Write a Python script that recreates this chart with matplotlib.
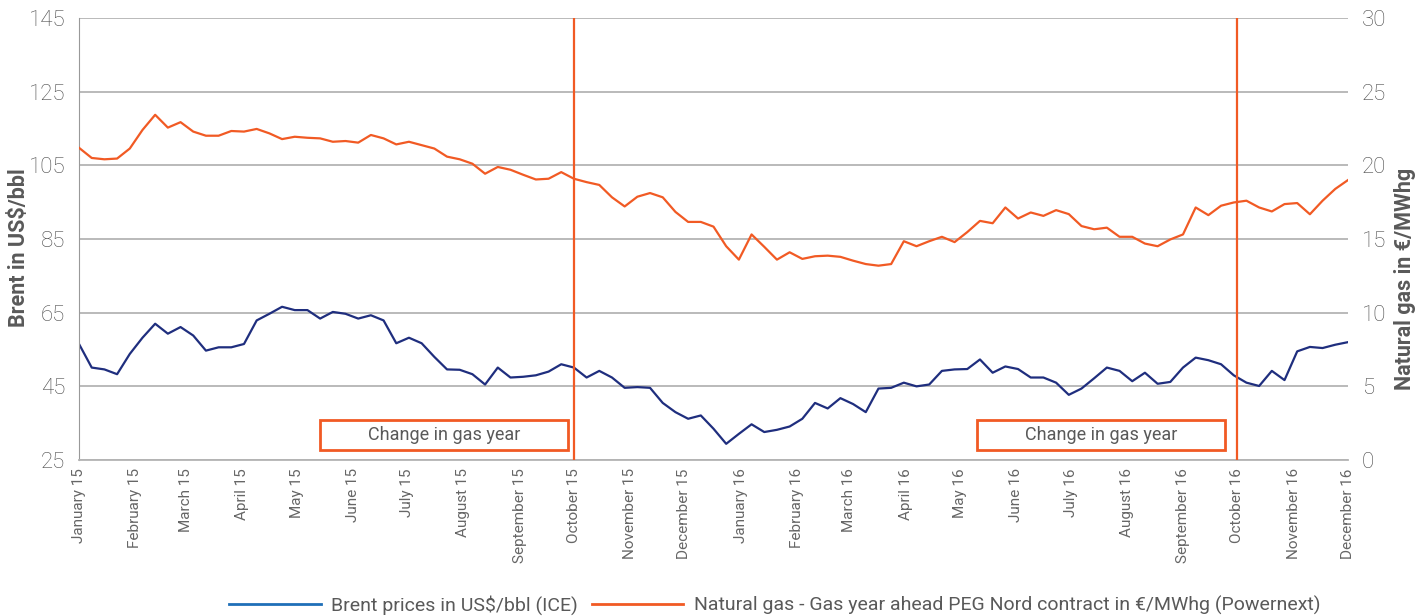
import matplotlib.pyplot as plt
import matplotlib.dates as mdates
from matplotlib.patches import Rectangle
from matplotlib.lines import Line2D
import pandas as pd

plt.rcParams['font.family'] = ['Roboto', 'DejaVu Sans']

# weekly points, Jan 2015 - Dec 2016
dates = pd.date_range('2015-01-01', periods=101, freq='7D')

brent = [56.5, 50.1, 49.6, 48.3, 53.8, 58.2, 62.0, 59.3, 61.1, 58.8, 54.7, 55.6, 55.6, 56.5, 62.9, 64.7, 66.6,
         65.7, 65.7, 63.4, 65.2, 64.7, 63.4, 64.3, 62.9, 56.7, 58.2, 56.7, 53.0, 49.6, 49.5, 48.3, 45.5, 50.1,
         47.4, 47.6, 48.0, 49.0, 51.0, 50.1, 47.4, 49.2, 47.4, 44.6, 44.8, 44.6, 40.5, 38.0, 36.2, 37.1, 33.5,
         29.4, 32.1, 34.7, 32.6, 33.2, 34.1, 36.2, 40.5, 39.0, 41.8, 40.2, 38.0, 44.4, 44.6, 46.0, 45.0, 45.5,
         49.2, 49.6, 49.7, 52.3, 48.7, 50.4, 49.7, 47.4, 47.4, 46.0, 42.7, 44.4, 47.2, 50.1, 49.2, 46.4, 48.7,
         45.7, 46.2, 50.1, 52.8, 52.1, 51.0, 48.0, 46.0, 45.1, 49.2, 46.7, 54.5, 55.7, 55.4, 56.3, 57.0]

gas = [21.19, 20.50, 20.41, 20.46, 21.14, 22.40, 23.43, 22.56, 22.93, 22.29, 22.01, 22.01, 22.33, 22.29,
       22.47, 22.17, 21.78, 21.94, 21.87, 21.83, 21.60, 21.65, 21.54, 22.06, 21.83, 21.42, 21.60, 21.37,
       21.14, 20.59, 20.41, 20.11, 19.43, 19.89, 19.70, 19.36, 19.04, 19.09, 19.54, 19.09, 18.86, 18.67,
       17.83, 17.21, 17.87, 18.12, 17.83, 16.84, 16.16, 16.16, 15.84, 14.51, 13.60, 15.31, 14.47, 13.60,
       14.10, 13.65, 13.83, 13.87, 13.79, 13.53, 13.30, 13.19, 13.30, 14.85, 14.51, 14.85, 15.15, 14.79,
       15.47, 16.23, 16.07, 17.14, 16.39, 16.80, 16.57, 16.96, 16.69, 15.88, 15.66, 15.77, 15.15, 15.15,
       14.69, 14.51, 14.97, 15.31, 17.14, 16.62, 17.26, 17.48, 17.60, 17.14, 16.87, 17.37, 17.44, 16.68,
       17.60, 18.40, 19.00]

gas_year_changes = ['2015-10-01', '2016-10-01']

navy = '#1f2e7e'
orange = '#f15a24'
grey = '#595959'

fig = plt.figure(figsize=(14.24, 6.16), dpi=100)
ax = fig.add_axes([0.0555, 0.2532, 0.8911, 0.7176])
ax2 = ax.twinx()

ax.plot(dates, brent, color=navy, lw=1.6)
ax2.plot(dates, gas, color=orange, lw=1.6)
for d in gas_year_changes:
    ax.axvline(pd.Timestamp(d), color=orange, lw=1.6, zorder=5)

ax.set_xlim(pd.Timestamp('2015-01-01'), pd.Timestamp('2016-12-01'))
ax.set_ylim(25, 145)
ax.set_yticks(range(25, 146, 20))
ax2.set_ylim(0, 30)
ax2.set_yticks(range(0, 31, 5))

ax.xaxis.set_major_locator(mdates.MonthLocator())
ax.xaxis.set_major_formatter(mdates.DateFormatter('%B %y'))
plt.setp(ax.get_xticklabels(), rotation=90)
plt.setp(ax.get_yticklabels(), fontweight='light')
plt.setp(ax2.get_yticklabels(), fontweight='light')

ax.grid(axis='y', color='#b4b4b4', lw=1.3)
ax.set_axisbelow(True)
for a in (ax, ax2):
    for s in ('top', 'right', 'left', 'bottom'):
        a.spines[s].set_visible(False)
ax.spines['left'].set_visible(True)
ax.spines['left'].set_color('#999999')
ax.spines['bottom'].set_visible(True)
ax.spines['bottom'].set_color('#b4b4b4')
ax.spines['bottom'].set_linewidth(1.3)

ax.tick_params(axis='y', length=0, labelsize=16, colors='#4a4a4a', pad=10)
ax.tick_params(axis='x', length=0, labelsize=11, colors='#666666', pad=6)
ax2.tick_params(axis='y', length=0, labelsize=16, colors='#4a4a4a', pad=10)

ax.set_ylabel('Brent in US$/bbl', fontsize=15.5, fontweight='bold', color=grey)
ax2.set_ylabel('Natural gas in €/MWhg', fontsize=15.5, fontweight='bold', color=grey, rotation=90)
ax.yaxis.set_label_coords(-0.039, 0.48)
ax2.yaxis.set_label_coords(1.0362, 0.41)

# "Change in gas year" boxes
for x0 in (0.19, 0.708):
    ax.add_patch(Rectangle((x0, 0.023), 0.195, 0.067, transform=ax.transAxes, fill=False,
                           edgecolor=orange, lw=2, zorder=6, clip_on=False))
    ax.text(x0 + 0.0975, 0.0565, 'Change in gas year', transform=ax.transAxes, ha='center',
            va='center', fontsize=13, color=grey, zorder=7)

handles = [Line2D([], [], color='#1f6fb8', lw=2), Line2D([], [], color=orange, lw=2)]
labels = ['Brent prices in US$/bbl (ICE)',
          'Natural gas - Gas year ahead PEG Nord contract in €/MWhg (Powernext)']
fig.legend(handles, labels, loc='center', bbox_to_anchor=(0.544, 0.018), ncol=2, frameon=False,
           fontsize=14, handlelength=4.7, handletextpad=0.55, columnspacing=0.7, labelcolor=grey)

plt.savefig('out.png', dpi=100)
